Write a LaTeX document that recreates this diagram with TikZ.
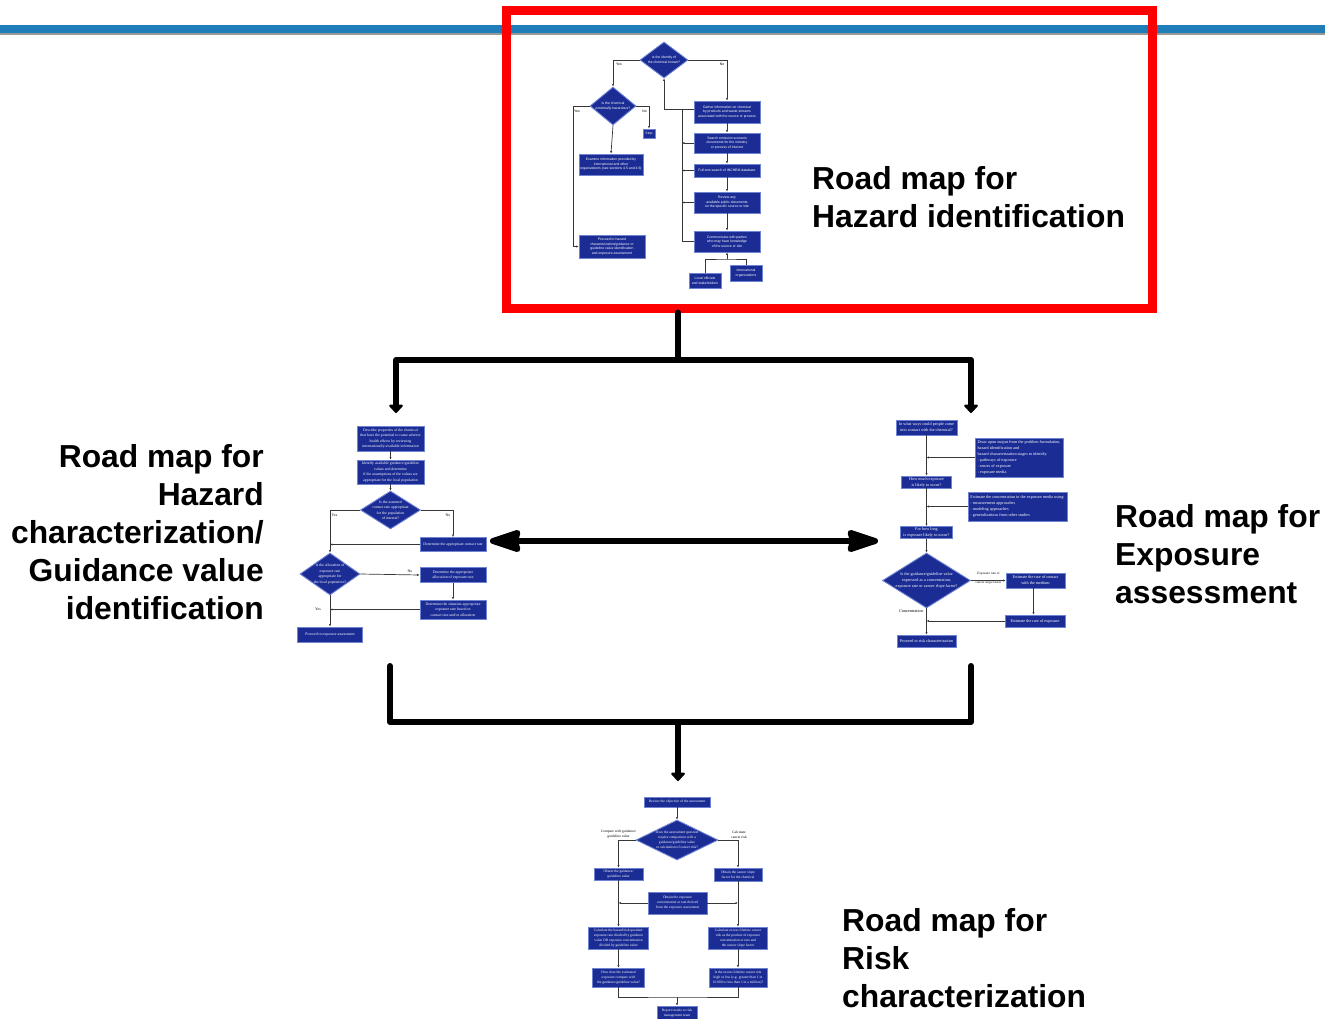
\documentclass[tikz,border=0pt]{standalone}
\usepackage{fontspec}
\setmainfont{Liberation Sans}
\newfontfamily\serf{Liberation Serif}
\usetikzlibrary{shapes.geometric,arrows.meta}
\definecolor{boxfill}{RGB}{27,44,148}
\definecolor{boxedge}{RGB}{112,132,212}
\definecolor{barblue}{RGB}{31,125,185}
\definecolor{wire}{RGB}{55,55,55}
\tikzset{
  fb/.style 2 args={draw=boxedge, line width=0.9pt, fill=boxfill, text=white,
    inner sep=0pt, align=center, minimum width=#1, minimum height=#2},
  fbl/.style 2 args={fb={#1}{#2}, align=left},
  fd/.style 2 args={diamond, draw=boxedge, line width=0.9pt, fill=boxfill,
    inner sep=0pt, minimum width=#1, minimum height=#2},
  dtxt/.style={text=white, align=center, inner sep=0pt},
  lab/.style={text=black, inner sep=0pt, align=center},
  wl/.style={draw=wire, line width=0.7pt},
  wa/.style={wl, -{Latex[length=2.4pt,width=2.2pt]}},
  big/.style={line width=6pt, line join=round, line cap=round},
  bigarr/.style={big, -{Triangle[length=9pt,width=16pt,round]}},
  title/.style={font=\fontsize{31.8}{38}\selectfont\bfseries, inner sep=0pt}
}
\begin{document}
\begin{tikzpicture}[x=1pt, y=-1pt]
\useasboundingbox (0,0) rectangle (1325,1019);

% header rule
\fill[barblue] (0,25) rectangle (1325,33);
\fill[black!40] (0,33) rectangle (1325,35);

% frame around the hazard identification chart
\node[draw=red, line width=9pt, minimum width=646pt, minimum height=297pt, inner sep=0pt]
  (redbox) at (829,159.5) {};

% ---------------- Hazard identification ----------------
\begin{scope}[every node/.append style={font=\fontsize{3.45}{4.6}\selectfont}]
\node[fd={48}{36}, label={[dtxt]center:{Is the identity of\\the chemical known?}}] (t_d1) at (664,60) {};
\node[fd={46}{38}, label={[dtxt]center:{Is the chemical\\potentially hazardous?}}] (t_d2) at (613,106) {};
\node[fb={12}{9}] (t_stop) at (649,133.5) {Stop};
\node[fb={64}{21}] (t_exam) at (611,164.5) {Examine information provided by\\international and other\\organizations (see sections 4.5 and 4.6)};
\node[fb={66}{23}] (t_proc) at (612,246.5) {Proceed to hazard\\characterization/guidance or\\guideline value identification\\and exposure assessment};
\node[fb={66}{22}] (t_gath) at (727,112) {Gather information on chemical\\by products and waste streams\\associated with the source or process};
\node[fb={66}{20}] (t_srch) at (727,143) {Search emission scenario\\documents for the industry\\or process of interest};
\node[fb={66}{13}] (t_full) at (727,170.5) {Full-text search of INCHEM database};
\node[fb={66}{21}] (t_rev) at (727,202.5) {Review any\\available public documents\\on the specific source or site};
\node[fb={66}{21}] (t_comm) at (727,241.5) {Communicate with parties\\who may have knowledge\\of the source or site};
\node[fb={32}{15}] (t_loc) at (705,280.5) {Local officials\\and stakeholders};
\node[fb={32}{16}] (t_int) at (746,273) {International\\organizations};

\coordinate (t_yl) at (573,0);
\coordinate (t_col) at (682,0);
\coordinate (t_top) at ([yshift=3pt]t_gath.west);
\coordinate (t_cj) at (727,259);

\draw[wa] (t_d1.west) -| (t_d2.north);
\node[lab] at (619,64.5) {Yes};
\draw[wa] (t_d1.east) -| (t_gath.north);
\node[lab] at (722,64.5) {No};
\draw[wa] (t_d2.west) -- (t_yl |- t_d2.west) -- (t_yl |- t_proc.west) -- (t_proc.west);
\node[lab] at (577,111) {Yes};
\draw[wa] (t_d2.east) -| (t_stop.north);
\node[lab] at (644.5,111) {No};
\draw[wa] (t_d2.south) -- (t_exam.north);
\draw[wa] (t_gath.south) -- (t_srch.north);
\draw[wa] (t_srch.south) -- (t_full.north);
\draw[wa] (t_full.south) -- (t_rev.north);
\draw[wa] (t_rev.south) -- (t_comm.north);
\draw[wa] (t_top) -| (t_d1.south);
\draw[wl] (t_comm.west) -- (t_col |- t_comm.west) -- (t_col |- t_top);
\draw[wa] (t_srch.west) -- (t_col |- t_srch.west);
\draw[wa] (t_full.west) -- (t_col |- t_full.west);
\draw[wa] (t_rev.west) -- (t_col |- t_rev.west);
\draw[wl] (t_loc.north) |- (t_cj) -| (t_int.north);
\draw[wa] (t_cj) -- (t_comm.south);
\end{scope}

% ---------------- Hazard characterization ----------------
\begin{scope}[every node/.append style={font=\serf\fontsize{3.85}{5.4}\selectfont}]
\node[fb={67}{25}] (l_b1) at (390.5,438.5) {Describe properties of the chemical\\that have the potential to cause adverse\\health effects by reviewing\\internationally available information};
\node[fb={67}{24}] (l_b2) at (390.5,472) {Identify available guidance/guideline\\values and determine\\if the assumptions of the values are\\appropriate for the local population};
\node[fd={60}{38}, label={[dtxt]center:{Is the assumed\\contact rate appropriate\\for the population\\of interest?}}] (l_d1) at (390.5,510) {};
\node[fb={66}{14}] (l_b3) at (453,544.5) {Determine the appropriate contact rate};
\node[fd={60}{42}, label={[dtxt]center:{Is the allocation of\\exposure rate\\appropriate for\\the local population?}}] (l_d2) at (330,574) {};
\node[fb={66}{15}] (l_b4) at (453,575) {Determine the appropriate\\allocation of exposure rate};
\node[fb={66}{19}] (l_b5) at (453,609.5) {Determine the situation-appropriate\\exposure rate based on\\contact rate and/or allocation};
\node[fb={65}{15}] (l_b6) at (330,634.5) {Proceed to exposure assessment};

\draw[wa] (l_b1.south) -- (l_b2.north);
\draw[wa] (l_b2.south) -- (l_d1.north);
\draw[wa] (l_d1.west) -| (l_d2.north);
\node[lab] at (334.5,515) {Yes};
\draw[wa] (l_d1.east) -| (l_b3.north);
\node[lab] at (448,515) {No};
\draw[wa] (l_b3.west) -- (l_d2.north |- l_b3.west);
\draw[wa] (l_d2.east) -- (l_b4.west);
\node[lab] at (410,571) {No};
\draw[wa] (l_b4.south) -- (l_b5.north);
\draw[wa] (l_b5.west) -- (l_d2.south |- l_b5.west);
\node[lab] at (318,609) {Yes};
\draw[wa] (l_d2.south) -- (l_b6.north);
\end{scope}

% ---------------- Exposure assessment ----------------
\begin{scope}[every node/.append style={font=\serf\fontsize{4.2}{6}\selectfont}]
\node[fb={61}{15}] (r_b1) at (926.5,427.5) {In what ways could people come\\into contact with the chemical?};
\node[fbl={88}{39}] (r_b2) at (1019,457.5) {Draw upon output from the problem formulation,\\hazard identification and\\hazard characterization stages to identify:\\- pathways of exposure\\- routes of exposure\\- exposure media};
\node[fb={50}{12}] (r_b3) at (926.5,482) {How much exposure\\is likely to occur?};
\node[fbl={99}{29}] (r_b4) at (1017.5,506.5) {Estimate the concentration in the exposure media using:\\- measurement approaches\\- modeling approaches\\- generalizations from other studies};
\node[fb={52}{12}] (r_b5) at (926.5,532.5) {For how long\\is exposure likely to occur?};
\node[fd={88}{55}, label={[dtxt]center:{Is the guidance/guideline value\\expressed as a concentration,\\exposure rate or cancer slope factor?}}] (r_d) at (926.5,580.5) {};
\node[fb={59}{15}] (r_b6) at (1035.5,580.5) {Estimate the rate of contact\\with the medium};
\node[fb={60}{12}] (r_b7) at (1035,621) {Estimate the rate of exposure};
\node[fb={59}{12}] (r_b8) at (926.5,641) {Proceed to risk characterization};

\draw[wa] (r_b1.south) -- (r_b3.north);
\draw[wa] (r_b2.west) -- (r_b1.south |- r_b2.west);
\draw[wa] (r_b3.south) -- (r_b5.north);
\draw[wa] (r_b4.west) -- (r_b3.south |- r_b4.west);
\draw[wa] (r_b5.south) -- (r_d.north);
\draw[wa] (r_d.east) -- (r_b6.west);
\node[lab, font=\serf\fontsize{3.4}{9}\selectfont] at (988.5,578.5) {Exposure rate or\\cancer slope factor};
\draw[wa] ([xshift=-2pt]r_b6.south) -- ([xshift=-2pt]r_b6.south |- r_b7.north);
\draw[wa] (r_b7.west) -- (r_d.south |- r_b7.west);
\node[lab] at (911,611) {Concentration};
\draw[wa] (r_d.south) -- (r_b8.north);
\end{scope}

% ---------------- Risk characterization ----------------
\begin{scope}[every node/.append style={font=\serf\fontsize{3.6}{5}\selectfont}]
\node[fb={66}{10}] (b_b1) at (677,802) {Review the objective of the assessment};
\node[fd={82}{40}, label={[dtxt]center:{Does the assessment question\\require comparison with a\\guidance/guideline value\\or calculation of cancer risk?}}] (b_d) at (677,840) {};
\node[fb={49}{12}] (b_b2) at (618.5,874) {Obtain the guidance/\\guideline value};
\node[fb={48}{13}] (b_b3) at (738,874.5) {Obtain the cancer slope\\factor for the chemical};
\node[fb={59}{22}] (b_b4) at (677.5,903) {Obtain the exposure\\concentration or rate derived\\from the exposure assessment};
\node[fb={60}{22}] (b_b5) at (618.5,938) {Calculate the hazard/risk quotient:\\exposure rate divided by guidance\\value OR exposure concentration\\divided by guideline value};
\node[fb={59}{22}] (b_b6) at (738,938) {Calculate excess lifetime cancer\\risk as the product of exposure\\concentration or rate and\\the cancer slope factor};
\node[fb={52}{19}] (b_b7) at (618.5,977.5) {How does the estimated\\exposure compare with\\the guidance/guideline value?};
\node[fb={58}{19}] (b_b8) at (738,977.5) {Is the excess lifetime cancer risk\\high or low (e.g. greater than 1 in\\10 000 or less than 1 in a million)?};
\node[fb={40}{14}] (b_b9) at (677,1013) {Report results to risk\\management team};

\coordinate (b_j) at (677,997);

\draw[wa] (b_b1.south) -- (b_d.north);
\draw[wa] (b_d.west) -| (b_b2.north);
\node[lab] at (618.5,834.5) {Compare with guidance/\\guideline value};
\draw[wa] (b_d.east) -| (b_b3.north);
\node[lab] at (739,834.5) {Calculate\\cancer risk};
\draw[wa] (b_b4.west) -- (b_b2.south |- b_b4.west);
\draw[wa] (b_b4.east) -- (b_b3.south |- b_b4.east);
\draw[wa] (b_b2.south) -- (b_b5.north);
\draw[wa] (b_b3.south) -- (b_b6.north);
\draw[wa] (b_b5.south) -- (b_b7.north);
\draw[wa] (b_b6.south) -- (b_b8.north);
\draw[wl] (b_b7.south) |- (b_j) -| (b_b8.south);
\draw[wa] (b_j) -- (b_b9.north);
\end{scope}

% ---------------- titles ----------------
\node[title, anchor=west, align=left] (ttl_hi) at (812,197) {Road map for\\Hazard identification};
\node[title, anchor=east, align=right] (ttl_hc) at (264,532.5) {Road map for\\Hazard\\characterization/\\Guidance value\\identification};
\node[title, anchor=west, align=left] (ttl_ea) at (1115,554.5) {Road map for\\Exposure\\assessment};
\node[title, anchor=west, align=left] (ttl_rc) at (842,958.5) {Road map for\\Risk\\characterization};

% ---------------- linking arrows ----------------
\coordinate (jt) at (678,360);
\coordinate (al) at (396,413);
\coordinate (ar) at (971,413);
\draw[big] (jt |- redbox.south) -- (jt);
\draw[bigarr] (jt) -| (al);
\draw[bigarr] (jt) -| (ar);

\coordinate (dl) at (490,541);
\coordinate (dr) at (878,541);
\draw[line width=6pt, {Stealth[length=38pt,width=24pt,inset=3pt,round]}-{Stealth[length=38pt,width=24pt,inset=3pt,round]}] (dl) -- (dr);

\coordinate (bl) at (390,666);
\coordinate (br) at (971,666);
\coordinate (bj) at (678,722);
\coordinate (bt) at (678,781);
\draw[big] (bl) |- (bj) -| (br);
\draw[bigarr] (bj) -- (bt);
\end{tikzpicture}
\end{document}
